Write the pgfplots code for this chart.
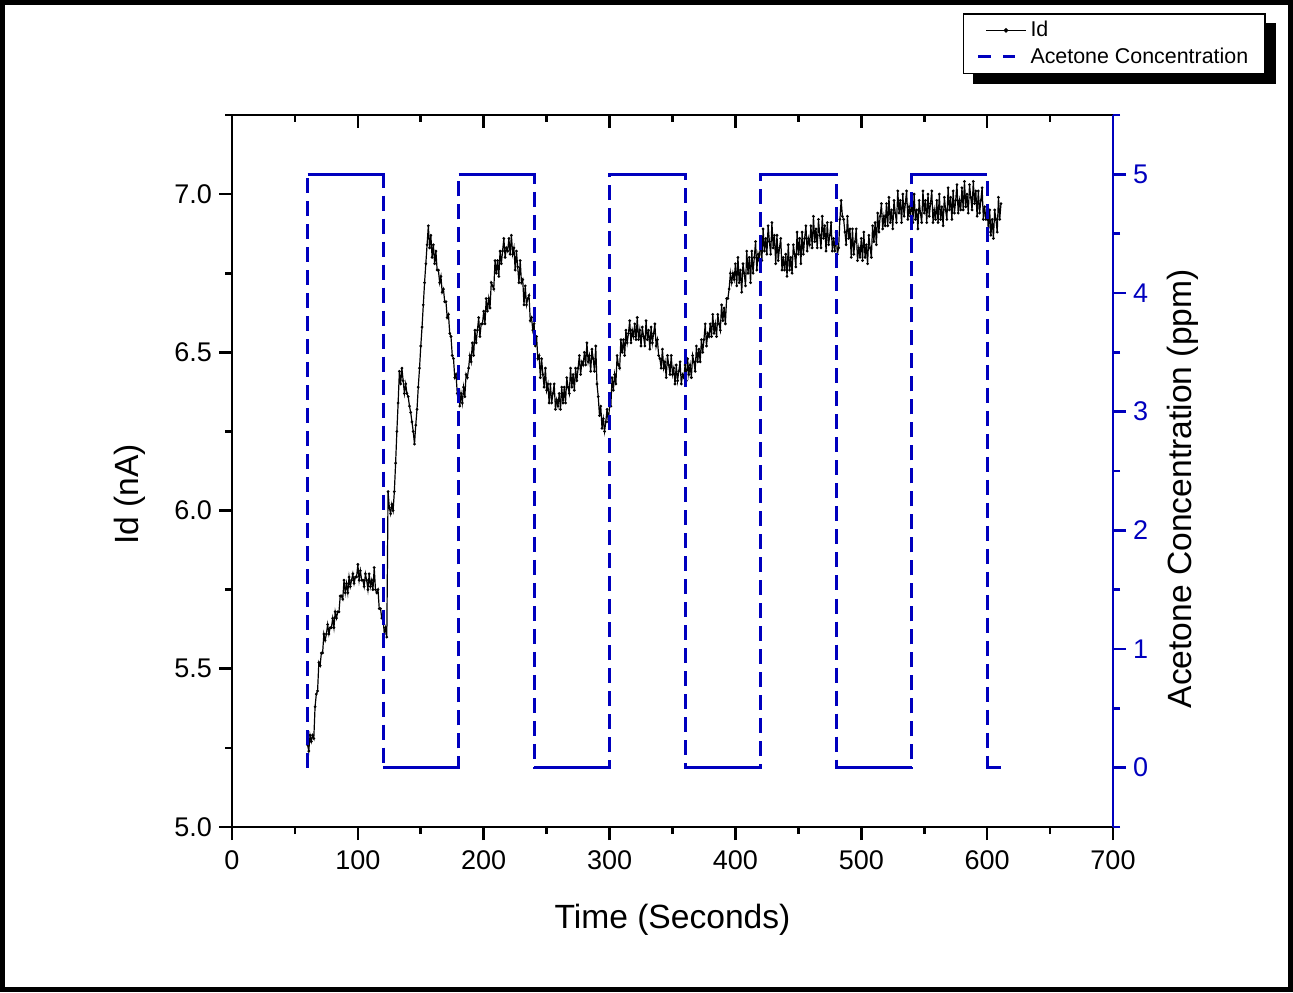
\documentclass[border=0pt]{standalone}
\usepackage{fontspec}
\setmainfont{Liberation Sans}
\usepackage{pgfplots}
\pgfplotsset{compat=1.18}
\definecolor{oblue}{RGB}{0,0,190}
\pgfdeclarelayer{background}
\pgfsetlayers{background,main}
\begin{document}
\begin{tikzpicture}[x=1pt,y=1pt]
\useasboundingbox (0,0) rectangle (646.5,496);
\pgfplotsset{
  base/.style={at={(116pt,82.5pt)}, anchor=south west, scale only axis,
    width=440.5pt, height=356pt, xmin=0, xmax=700,
    /pgf/number format/assume math mode=true,
    major tick length=6.5pt, minor tick length=3.5pt,
    axis line style={line width=1.3pt,-},
    tick style={line width=1.3pt, black},
    ticklabel style={font=\fontsize{13.5}{15}\selectfont},
    label style={font=\fontsize{16.8}{19}\selectfont},
    xtick={0,100,200,300,400,500,600,700},
    minor xtick={50,150,250,350,450,550,650},
  }
}
\begin{axis}[base, ymin=5, ymax=7.25,
  xtick pos=left, ytick pos=left, tick align=outside,
  ytick={5,5.5,6,6.5,7}, minor ytick={5.25,5.75,6.25,6.75,7.25},
  yticklabel style={/pgf/number format/fixed, /pgf/number format/fixed zerofill, /pgf/number format/precision=1},
  xticklabel style={yshift=-2pt},
  xlabel={Time (Seconds)}, ylabel={Id (nA)},
  xlabel style={at={(axis description cs:0.5,-0.131)}, anchor=center},
  ylabel style={at={(axis description cs:-0.1158,0.467)}, anchor=center},
]
\addplot[black, line width=0.6pt, mark=*, mark size=0.35pt, mark options={solid}] table[row sep=\\]{
x y\\
60 5.26\\61 5.24\\62 5.29\\63 5.27\\64 5.29\\65 5.28\\66 5.38\\67 5.42\\68 5.43\\69 5.52\\
70 5.51\\71 5.55\\72 5.55\\73 5.61\\74 5.59\\75 5.61\\76 5.64\\77 5.61\\78 5.63\\79 5.63\\
80 5.66\\81 5.63\\82 5.68\\83 5.66\\84 5.68\\85 5.68\\86 5.73\\87 5.73\\88 5.72\\89 5.78\\
90 5.74\\91 5.77\\92 5.74\\93 5.79\\94 5.76\\95 5.78\\96 5.80\\97 5.77\\98 5.79\\99 5.79\\
100 5.83\\101 5.78\\102 5.81\\103 5.78\\104 5.78\\105 5.76\\106 5.80\\107 5.78\\108 5.75\\109 5.80\\
110 5.76\\111 5.78\\112 5.75\\113 5.82\\114 5.75\\115 5.74\\116 5.75\\117 5.69\\118 5.69\\119 5.66\\
120 5.66\\121 5.61\\122 5.63\\123 5.60\\124 6.06\\125 6.01\\126 5.99\\127 6.02\\128 6.00\\129 6.06\\
130 6.15\\131 6.25\\132 6.34\\133 6.44\\134 6.40\\135 6.45\\136 6.41\\137 6.37\\138 6.40\\139 6.37\\
140 6.36\\141 6.33\\142 6.31\\143 6.28\\144 6.25\\145 6.21\\146 6.27\\147 6.32\\148 6.39\\149 6.45\\
150 6.52\\151 6.58\\152 6.65\\153 6.72\\154 6.78\\155 6.84\\156 6.90\\157 6.83\\158 6.87\\159 6.80\\
160 6.84\\161 6.78\\162 6.82\\163 6.76\\164 6.76\\165 6.72\\166 6.74\\167 6.69\\168 6.70\\169 6.66\\
170 6.66\\171 6.61\\172 6.62\\173 6.56\\174 6.55\\175 6.49\\176 6.48\\177 6.42\\178 6.43\\179 6.37\\
180 6.38\\181 6.33\\182 6.37\\183 6.34\\184 6.39\\185 6.36\\186 6.43\\187 6.42\\188 6.45\\189 6.49\\
190 6.47\\191 6.53\\192 6.49\\193 6.57\\194 6.53\\195 6.57\\196 6.61\\197 6.55\\198 6.59\\199 6.59\\
200 6.63\\201 6.59\\202 6.67\\203 6.63\\204 6.67\\205 6.64\\206 6.72\\207 6.71\\208 6.70\\209 6.79\\
210 6.75\\211 6.79\\212 6.74\\213 6.82\\214 6.78\\215 6.82\\216 6.86\\217 6.80\\218 6.83\\219 6.82\\
220 6.86\\221 6.81\\222 6.87\\223 6.81\\224 6.83\\225 6.76\\226 6.82\\227 6.77\\228 6.72\\229 6.79\\
230 6.72\\231 6.73\\232 6.65\\233 6.71\\234 6.65\\235 6.67\\236 6.68\\237 6.60\\238 6.61\\239 6.57\\
240 6.59\\241 6.52\\242 6.55\\243 6.48\\244 6.49\\245 6.42\\246 6.48\\247 6.43\\248 6.39\\249 6.45\\
250 6.38\\251 6.40\\252 6.34\\253 6.40\\254 6.34\\255 6.37\\256 6.40\\257 6.32\\258 6.35\\259 6.33\\
260 6.37\\261 6.32\\262 6.39\\263 6.34\\264 6.39\\265 6.34\\266 6.42\\267 6.39\\268 6.37\\269 6.45\\
270 6.39\\271 6.43\\272 6.38\\273 6.45\\274 6.41\\275 6.45\\276 6.49\\277 6.43\\278 6.47\\279 6.46\\
280 6.50\\281 6.46\\282 6.53\\283 6.47\\284 6.49\\285 6.44\\286 6.51\\287 6.48\\288 6.44\\289 6.52\\
290 6.40\\291 6.36\\292 6.30\\293 6.33\\294 6.26\\295 6.29\\296 6.25\\297 6.28\\298 6.32\\299 6.28\\
300 6.33\\301 6.33\\302 6.42\\303 6.38\\304 6.43\\305 6.40\\306 6.49\\307 6.46\\308 6.45\\309 6.54\\
310 6.50\\311 6.54\\312 6.49\\313 6.57\\314 6.53\\315 6.56\\316 6.60\\317 6.53\\318 6.57\\319 6.55\\
320 6.59\\321 6.54\\322 6.61\\323 6.54\\324 6.57\\325 6.52\\326 6.58\\327 6.55\\328 6.52\\329 6.60\\
330 6.54\\331 6.57\\332 6.51\\333 6.58\\334 6.53\\335 6.56\\336 6.59\\337 6.52\\338 6.54\\339 6.49\\
340 6.48\\341 6.45\\342 6.51\\343 6.45\\344 6.47\\345 6.42\\346 6.49\\347 6.46\\348 6.43\\349 6.49\\
350 6.43\\351 6.45\\352 6.40\\353 6.46\\354 6.41\\355 6.44\\356 6.47\\357 6.40\\358 6.43\\359 6.42\\
360 6.46\\361 6.41\\362 6.48\\363 6.43\\364 6.46\\365 6.42\\366 6.49\\367 6.47\\368 6.44\\369 6.52\\
370 6.47\\371 6.51\\372 6.47\\373 6.54\\374 6.50\\375 6.54\\376 6.59\\377 6.52\\378 6.56\\379 6.55\\
380 6.59\\381 6.55\\382 6.62\\383 6.56\\384 6.59\\385 6.55\\386 6.62\\387 6.59\\388 6.57\\389 6.65\\
390 6.60\\391 6.64\\392 6.59\\393 6.67\\394 6.67\\395 6.70\\396 6.75\\397 6.72\\398 6.75\\399 6.73\\
400 6.78\\401 6.71\\402 6.80\\403 6.72\\404 6.76\\405 6.69\\406 6.78\\407 6.75\\408 6.71\\409 6.82\\
410 6.75\\411 6.80\\412 6.72\\413 6.82\\414 6.75\\415 6.80\\416 6.85\\417 6.76\\418 6.81\\419 6.79\\
420 6.86\\421 6.79\\422 6.89\\423 6.82\\424 6.86\\425 6.81\\426 6.90\\427 6.85\\428 6.81\\429 6.91\\
430 6.83\\431 6.87\\432 6.78\\433 6.87\\434 6.79\\435 6.83\\436 6.86\\437 6.76\\438 6.80\\439 6.76\\
440 6.81\\441 6.74\\442 6.84\\443 6.76\\444 6.80\\445 6.75\\446 6.84\\447 6.81\\448 6.77\\449 6.88\\
450 6.81\\451 6.86\\452 6.78\\453 6.88\\454 6.81\\455 6.86\\456 6.90\\457 6.82\\458 6.86\\459 6.84\\
460 6.90\\461 6.83\\462 6.93\\463 6.85\\464 6.89\\465 6.83\\466 6.92\\467 6.87\\468 6.83\\469 6.93\\
470 6.86\\471 6.90\\472 6.82\\473 6.91\\474 6.84\\475 6.87\\476 6.91\\477 6.82\\478 6.86\\479 6.82\\
480 6.88\\481 6.81\\482 6.83\\483 6.92\\484 6.98\\485 6.93\\486 6.92\\487 6.88\\488 6.84\\489 6.93\\
490 6.86\\491 6.89\\492 6.80\\493 6.89\\494 6.81\\495 6.85\\496 6.89\\497 6.79\\498 6.83\\499 6.80\\
500 6.86\\501 6.79\\502 6.88\\503 6.80\\504 6.84\\505 6.78\\506 6.87\\507 6.83\\508 6.80\\509 6.90\\
510 6.85\\511 6.91\\512 6.84\\513 6.94\\514 6.88\\515 6.93\\516 6.97\\517 6.89\\518 6.93\\519 6.90\\
520 6.97\\521 6.90\\522 6.99\\523 6.91\\524 6.95\\525 6.89\\526 6.98\\527 6.94\\528 6.91\\529 7.01\\
530 6.94\\531 6.98\\532 6.91\\533 7.00\\534 6.93\\535 6.97\\536 7.01\\537 6.92\\538 6.96\\539 6.93\\
540 6.99\\541 6.91\\542 7.00\\543 6.92\\544 6.95\\545 6.89\\546 6.98\\547 6.94\\548 6.91\\549 7.01\\
550 6.94\\551 6.98\\552 6.91\\553 7.00\\554 6.93\\555 6.97\\556 7.01\\557 6.91\\558 6.95\\559 6.92\\
560 6.98\\561 6.91\\562 7.00\\563 6.92\\564 6.96\\565 6.90\\566 6.99\\567 6.95\\568 6.92\\569 7.02\\
570 6.95\\571 6.99\\572 6.92\\573 7.01\\574 6.94\\575 6.98\\576 7.03\\577 6.94\\578 6.98\\579 6.95\\
580 7.02\\581 6.95\\582 7.04\\583 6.96\\584 7.00\\585 6.94\\586 7.03\\587 6.99\\588 6.95\\589 7.04\\
590 6.97\\591 7.01\\592 6.93\\593 7.01\\594 6.94\\595 6.98\\596 7.02\\597 6.92\\598 6.96\\599 6.92\\
600 6.96\\601 6.88\\602 6.95\\603 6.87\\604 6.92\\605 6.86\\606 6.95\\607 6.92\\608 6.88\\609 6.99\\
610 6.92\\611 6.97\\
};
\end{axis}
\begin{axis}[base, ymin=5, ymax=7.25, hide y axis, axis x line*=top,
  tick align=inside, xticklabels={}]
\end{axis}
\begin{axis}[base, ymin=-0.5, ymax=5.5, axis x line=none, axis y line*=right,
  y axis line style={draw=oblue},
  tick align=outside,
  ytick={0,1,2,3,4,5}, minor ytick={-0.5,0.5,1.5,2.5,3.5,4.5,5.5},
  y tick style={oblue}, yticklabel style={text=oblue},
  ylabel={Acetone Concentration (ppm)},
  ylabel style={at={(axis description cs:1.0795,0.475)}, anchor=center},
  legend cell align=left,
  legend style={name=leg, at={(axis description cs:1.1737,1.1433)}, anchor=north east,
    draw=black, line width=0.8pt, fill=white, inner xsep=6.5pt, inner ysep=1.65pt,
    font=\fontsize{10.7}{12.5}\selectfont,
    nodes={inner sep=2pt, text depth=0.15em}},
]
\addlegendimage{legend image code/.code={\path[draw=none,fill=none] (-4pt,0pt)--(20pt,0pt); \draw[black,line width=0.5pt] (0pt,0pt)--(20pt,0pt); \fill[black] (10pt,0pt) circle (0.7pt);}}
\addlegendentry{Id}
\addplot[oblue, line width=1.5pt, dash pattern=on 7.5pt off 4pt, mark=none,
  legend image code/.code={\path[draw=none,fill=none] (-4pt,0pt)--(20pt,0pt); \draw[oblue,line width=1.6pt,dash pattern=on 6.5pt off 6pt] (-4pt,0pt)--(14.5pt,0pt);}]
  coordinates {(60,0) (60,5) (120,5) (120,0) (180,0) (180,5) (240,5) (240,0) (300,0) (300,5) (360,5) (360,0) (420,0) (420,5) (480,5) (480,0) (540,0) (540,5) (600,5) (600,0) (611,0)};
\addlegendentry{Acetone Concentration}
\addplot[oblue, line width=1.2pt, mark=none, unbounded coords=jump, forget plot]
  coordinates {(60,5) (120,5) (150,nan) (120,0) (180,0) (200,nan) (180,5) (240,5) (260,nan) (240,0) (300,0) (320,nan) (300,5) (360,5) (380,nan) (360,0) (420,0) (440,nan) (420,5) (480,5) (500,nan) (480,0) (540,0) (560,nan) (540,5) (600,5) (605,nan) (600,0) (611,0)};
\end{axis}
\begin{pgfonlayer}{background}
\fill[black] ([shift={(5pt,-5pt)}]leg.south west) rectangle ([shift={(5pt,-5pt)}]leg.north east);
\end{pgfonlayer}
\draw[line width=2.5pt] (1.25,1.25) rectangle (645.25,494.75);
\end{tikzpicture}
\end{document}
